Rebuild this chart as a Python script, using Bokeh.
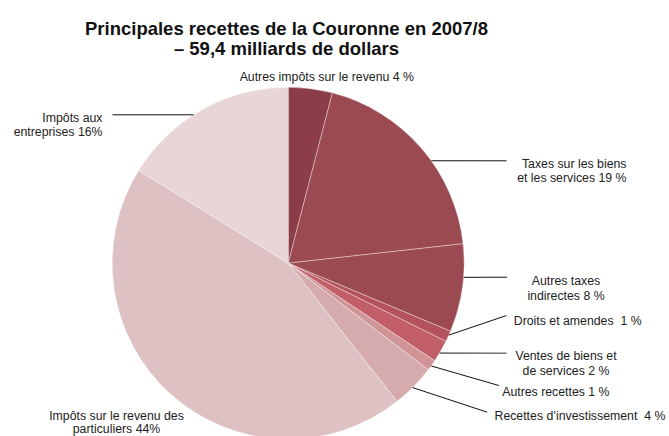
import math
from bokeh.plotting import figure
from bokeh.models import Range1d, ColumnDataSource
from bokeh.core.properties import value
from bokeh.embed import file_html
from bokeh.resources import INLINE

# ---- data ----
title_lines = ["Principales recettes de la Couronne en 2007/8", "– 59,4 milliards de dollars"]
categories = ["Autres impôts sur le revenu", "Taxes sur les biens et les services",
              "Autres taxes indirectes", "Droits et amendes", "Ventes de biens et de services",
              "Autres recettes", "Recettes d’investissement",
              "Impôts sur le revenu des particuliers", "Impôts aux entreprises"]
values = [4, 19, 8, 1, 2, 1, 4, 44, 16]
NB = "\u00a0"
label_lines = [
    ["Autres impôts sur le revenu 4 %"],
    ["Taxes sur les biens", "et les services 19 %"],
    ["Autres taxes", "indirectes 8 %"],
    ["Droits et amendes" + NB + " 1 %"],
    ["Ventes de biens et", "de services 2 %"],
    ["Autres recettes 1 %"],
    ["Recettes d’investissement" + NB + " 4 %"],
    ["Impôts sur le revenu des", "particuliers 44%"],
    ["Impôts aux", "entreprises 16%"],
]

# ---- styles / layout ----
colors = ["#8B3E48", "#9B4A52", "#9B4A52", "#B3525D", "#C15E68",
          "#D09396", "#D6ABAD", "#DEC1C2", "#E8D5D6"]
W, H = 669, 436
OFF = 0  # the page template has no margin


def px(x):
    return x - OFF


def py(y):
    return (H + OFF) - y


CX, CY, R = 287.7, 262.7, 176
# label anchor (page x, first baseline page y, align, line height)
label_pos = [(326.3, 76.3, "center", 14.6), (626, 163.3, "right", 14.6),
             (565.5, 280.7, "center", 14.8), (513.3, 320.0, "left", 14.6),
             (565.5, 355.7, "center", 14.8), (501.7, 391.7, "left", 14.6),
             (494.0, 415.0, "left", 14.6), (116.0, 415.0, "center", 13.2),
             (102.0, 117.3, "right", 14.4)]
# leader: (fraction inside slice where the line starts, end page x, end page y, color, width)
leaders = [None, (0.577, 506, 160.3, "#111111", 1), (0.377, 506.7, 276.7, "#111111", 1),
           (0.38, 506, 315, "#111111", 1), (0.6, 506, 352.7, "#777777", 1.6),
           (0.57, 498.3, 385, "#111111", 1), (0.53, 486.7, 411.7, "#111111", 1),
           None, (0.441, 112, 114.3, "#111111", 1)]

total = float(sum(values))
starts, ends = [], []
cum = 0.0
for v in values:
    starts.append(math.pi / 2 - cum / total * 2 * math.pi)
    cum += v
    ends.append(math.pi / 2 - cum / total * 2 * math.pi)

p = figure(width=W, height=H, x_range=Range1d(0, W), y_range=Range1d(0, H),
           output_backend="svg", toolbar_location=None, min_border=0,
           x_axis_location=None, y_axis_location=None)
p.grid.visible = False
p.outline_line_color = None
p.background_fill_color = "white"
p.border_fill_color = "white"

src = ColumnDataSource(dict(x=[px(CX)] * len(values), y=[py(CY)] * len(values),
                            start=starts, end=ends, color=colors, cat=categories))
p.wedge(x="x", y="y", radius=R, start_angle="start", end_angle="end", direction="clock",
        fill_color="color", line_color="white", line_width=0.6, line_alpha=0.6, source=src)

# leader lines
for i, ld in enumerate(leaders):
    if ld is None:
        continue
    frac, ex, ey, col, lw = ld
    a = starts[i] + (ends[i] - starts[i]) * frac
    sx = px(CX) + R * math.cos(a)
    sy = py(CY) + R * math.sin(a)
    p.line(x=[sx, px(ex)], y=[sy, py(ey)], line_color=col, line_width=lw)

# labels
for i, lines in enumerate(label_lines):
    lx, ly, al, lh = label_pos[i]
    xs = [px(lx)] * len(lines)
    ys = [py(ly + k * lh) for k in range(len(lines))]
    p.text(x=xs, y=ys, text=lines, text_font=value("Liberation Sans"),
           text_font_size=value("12.3px"), text_color="#222222",
           text_align=al, text_baseline="alphabetic")

# title
p.text(x=[px(286), px(286)], y=[py(28.3), py(47.7)], text=title_lines,
       text_font=value("Liberation Sans"), text_font_size=value("18.5px"),
       text_font_style="bold", text_color="#111111", text_align="center",
       text_baseline="alphabetic")

open("out.html", "w").write(file_html(p, INLINE))
